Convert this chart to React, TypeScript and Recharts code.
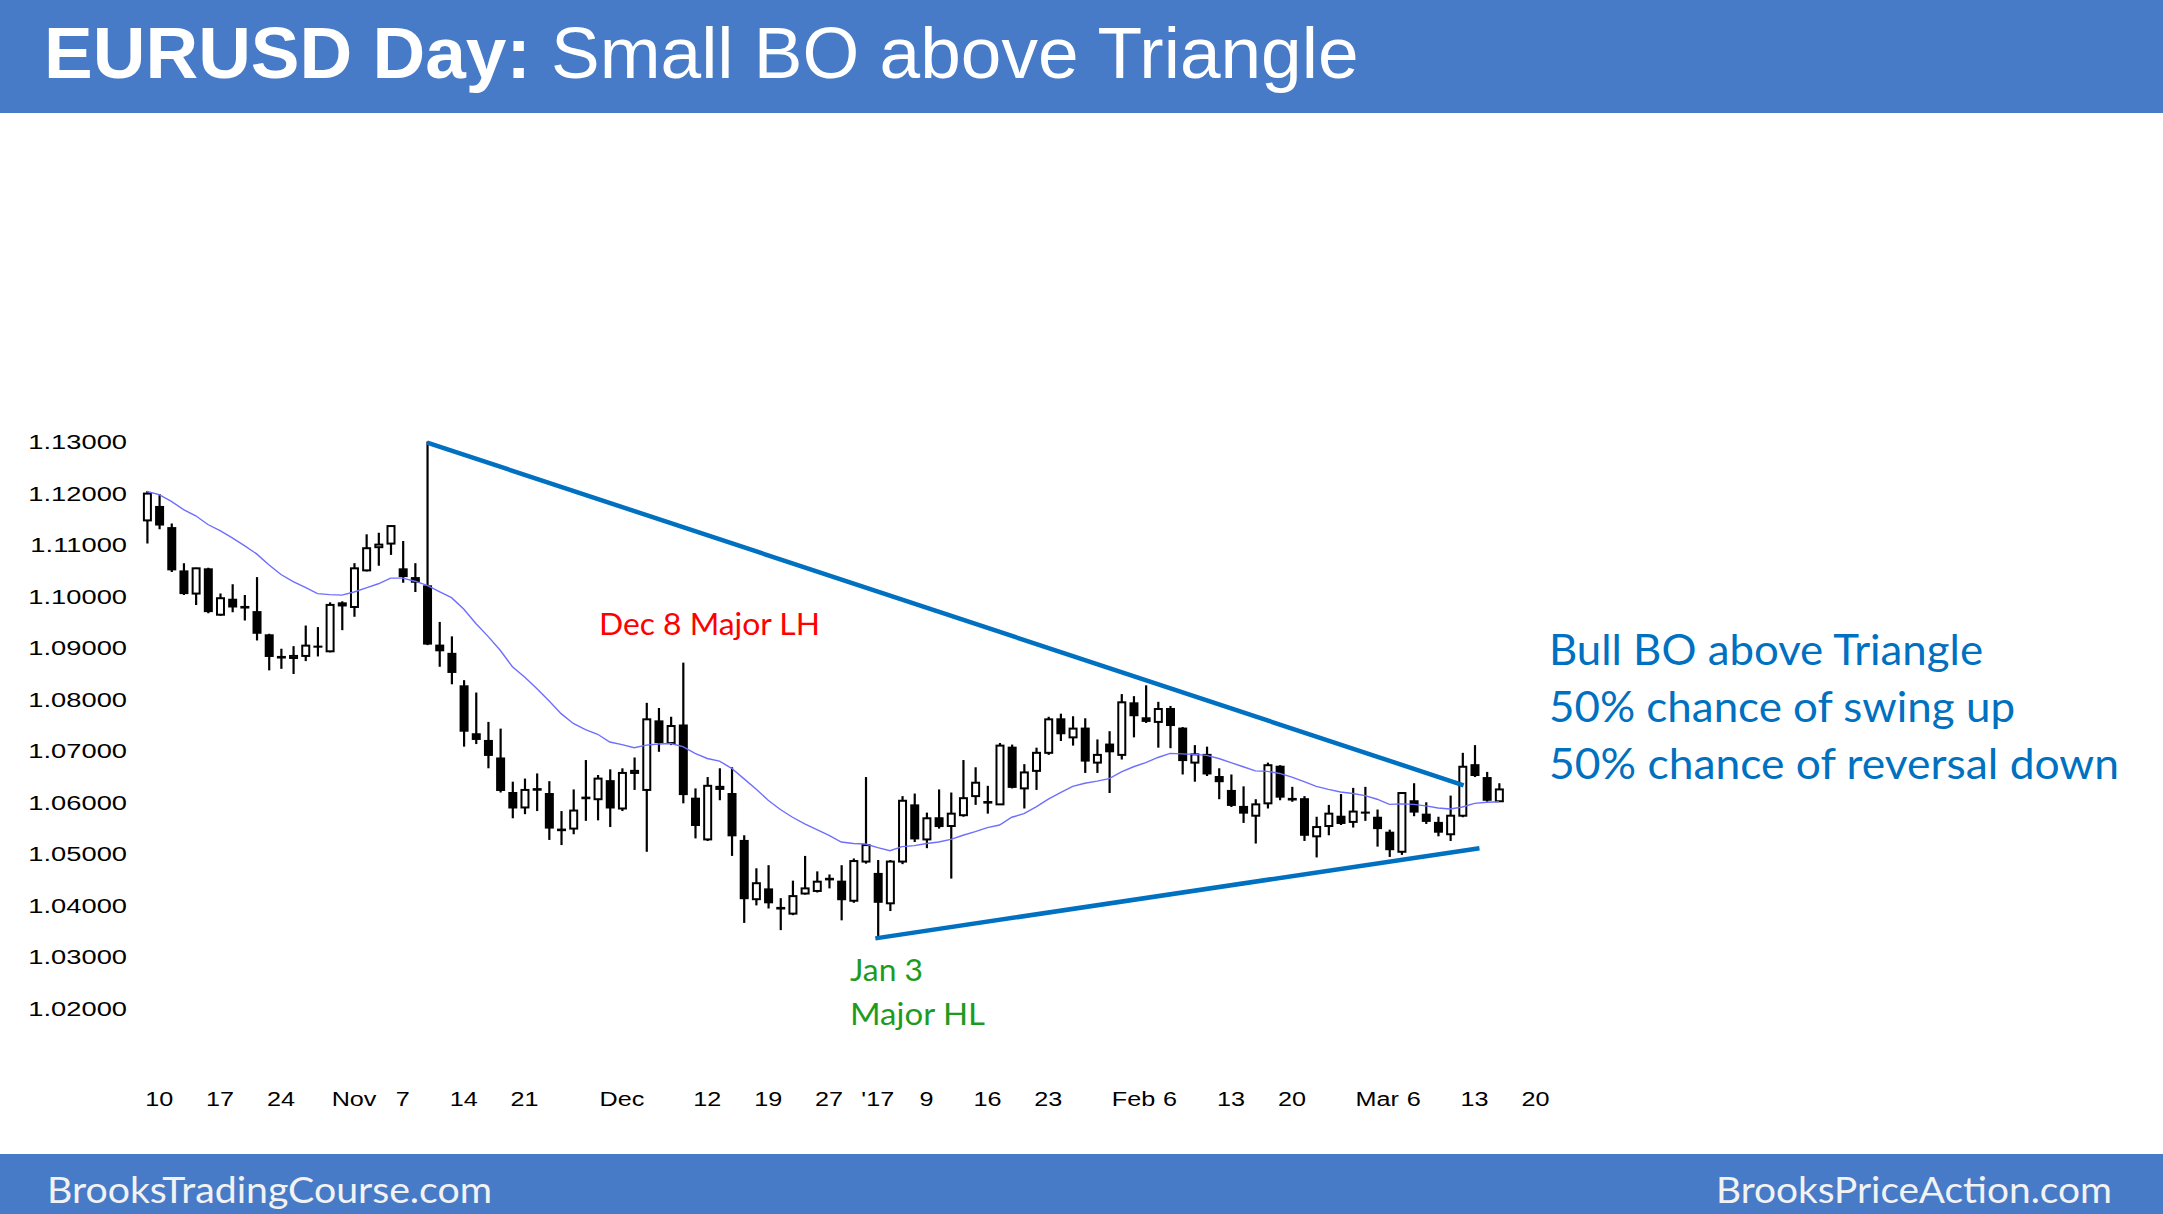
import React from 'react';
import { ComposedChart, Bar, Line, XAxis, YAxis, ReferenceLine } from 'recharts';

// ---------- data ----------
const dates = [
  'Oct 7',
  'Oct 10', 'Oct 11', 'Oct 12', 'Oct 13', 'Oct 14',
  'Oct 17', 'Oct 18', 'Oct 19', 'Oct 20', 'Oct 21',
  'Oct 24', 'Oct 25', 'Oct 26', 'Oct 27', 'Oct 28',
  'Oct 31', 'Nov 1', 'Nov 2', 'Nov 3', 'Nov 4',
  'Nov 7', 'Nov 8', 'Nov 9', 'Nov 10', 'Nov 11',
  'Nov 14', 'Nov 15', 'Nov 16', 'Nov 17', 'Nov 18',
  'Nov 21', 'Nov 22', 'Nov 23', 'Nov 24', 'Nov 25',
  'Nov 28', 'Nov 29', 'Nov 30', 'Dec 1', 'Dec 2',
  'Dec 5', 'Dec 6', 'Dec 7', 'Dec 8', 'Dec 9',
  'Dec 12', 'Dec 13', 'Dec 14', 'Dec 15', 'Dec 16',
  'Dec 19', 'Dec 20', 'Dec 21', 'Dec 22', 'Dec 23',
  'Dec 27', 'Dec 28', 'Dec 29', 'Dec 30',
  'Jan 3', 'Jan 4', 'Jan 5', 'Jan 6',
  'Jan 9', 'Jan 10', 'Jan 11', 'Jan 12', 'Jan 13',
  'Jan 16', 'Jan 17', 'Jan 18', 'Jan 19', 'Jan 20',
  'Jan 23', 'Jan 24', 'Jan 25', 'Jan 26', 'Jan 27',
  'Jan 30', 'Jan 31', 'Feb 1', 'Feb 2', 'Feb 3',
  'Feb 6', 'Feb 7', 'Feb 8', 'Feb 9', 'Feb 10',
  'Feb 13', 'Feb 14', 'Feb 15', 'Feb 16', 'Feb 17',
  'Feb 20', 'Feb 21', 'Feb 22', 'Feb 23', 'Feb 24',
  'Feb 27', 'Feb 28', 'Mar 1', 'Mar 2', 'Mar 3',
  'Mar 6', 'Mar 7', 'Mar 8', 'Mar 9', 'Mar 10',
  'Mar 13', 'Mar 14', 'Mar 15',
];

const opens = [
  1.1147, 1.1175, 1.1134, 1.1050, 1.1005, 1.1054, 1.0964, 1.0995, 1.0980, 1.0971,
  1.0926, 1.0883, 1.0880, 1.0884, 1.0904, 1.0893, 1.0988, 1.0979, 1.1050, 1.1095,
  1.1102, 1.1054, 1.1037, 1.1021, 1.0906, 1.0890, 1.0827, 1.0734, 1.0721, 1.0687,
  1.0620, 1.0590, 1.0626, 1.0618, 1.0548, 1.0549, 1.0607, 1.0606, 1.0643, 1.0588,
  1.0657, 1.0624, 1.0759, 1.0715, 1.0751, 1.0609, 1.0528, 1.0626, 1.0618, 1.0527,
  1.0412, 1.0433, 1.0396, 1.0384, 1.0423, 1.0428, 1.0450, 1.0448, 1.0409, 1.0485,
  1.0463, 1.0404, 1.0485, 1.0596, 1.0528, 1.0571, 1.0554, 1.0575, 1.0612, 1.0601,
  1.0596, 1.0708, 1.0627, 1.0661, 1.0696, 1.0763, 1.0726, 1.0745, 1.0677, 1.0714,
  1.0692, 1.0794, 1.0765, 1.0756, 1.0783, 1.0745, 1.0677, 1.0694, 1.0651, 1.0624,
  1.0593, 1.0574, 1.0598, 1.0671, 1.0607, 1.0608, 1.0534, 1.0554, 1.0574, 1.0562,
  1.0582, 1.0572, 1.0543, 1.0504, 1.0604, 1.0578, 1.0562, 1.0538, 1.0574, 1.0674,
  1.0649, 1.0602,
];

const highs = [
  1.1204, 1.1198, 1.1141, 1.1064, 1.1055, 1.1055, 1.1005, 1.1023, 1.1002, 1.1037,
  1.0927, 1.0898, 1.0903, 1.0943, 1.0940, 1.0988, 1.0990, 1.1064, 1.1120, 1.1123,
  1.1137, 1.1107, 1.1064, 1.1300, 1.0950, 1.0922, 1.0837, 1.0813, 1.0756, 1.0743,
  1.0640, 1.0646, 1.0656, 1.0641, 1.0583, 1.0625, 1.0682, 1.0653, 1.0664, 1.0666,
  1.0687, 1.0793, 1.0783, 1.0766, 1.0871, 1.0627, 1.0649, 1.0666, 1.0668, 1.0536,
  1.0472, 1.0478, 1.0414, 1.0448, 1.0496, 1.0466, 1.0460, 1.0478, 1.0491, 1.0649,
  1.0488, 1.0488, 1.0612, 1.0617, 1.0580, 1.0625, 1.0619, 1.0682, 1.0668, 1.0632,
  1.0715, 1.0712, 1.0674, 1.0706, 1.0766, 1.0772, 1.0767, 1.0763, 1.0722, 1.0738,
  1.0810, 1.0806, 1.0827, 1.0795, 1.0787, 1.0746, 1.0711, 1.0708, 1.0666, 1.0654,
  1.0631, 1.0606, 1.0677, 1.0672, 1.0630, 1.0612, 1.0572, 1.0595, 1.0616, 1.0628,
  1.0630, 1.0586, 1.0547, 1.0620, 1.0637, 1.0600, 1.0572, 1.0613, 1.0696, 1.0711,
  1.0659, 1.0637,
];

const lows = [
  1.1102, 1.1130, 1.1047, 1.1002, 1.0983, 1.0967, 1.0962, 1.0969, 1.0953, 1.0914,
  1.0856, 1.0859, 1.0849, 1.0874, 1.0883, 1.0891, 1.0934, 1.0960, 1.1048, 1.1059,
  1.1080, 1.1026, 1.1008, 1.0905, 1.0863, 1.0829, 1.0708, 1.0713, 1.0666, 1.0619,
  1.0569, 1.0577, 1.0583, 1.0527, 1.0517, 1.0538, 1.0564, 1.0565, 1.0552, 1.0583,
  1.0624, 1.0504, 1.0698, 1.0711, 1.0598, 1.0530, 1.0525, 1.0604, 1.0496, 1.0366,
  1.0400, 1.0394, 1.0352, 1.0381, 1.0421, 1.0425, 1.0433, 1.0371, 1.0405, 1.0481,
  1.0339, 1.0389, 1.0480, 1.0523, 1.0511, 1.0549, 1.0452, 1.0572, 1.0595, 1.0578,
  1.0595, 1.0627, 1.0588, 1.0624, 1.0692, 1.0719, 1.0710, 1.0657, 1.0657, 1.0618,
  1.0683, 1.0726, 1.0754, 1.0706, 1.0705, 1.0654, 1.0640, 1.0651, 1.0606, 1.0591,
  1.0560, 1.0520, 1.0588, 1.0604, 1.0601, 1.0525, 1.0493, 1.0536, 1.0556, 1.0551,
  1.0564, 1.0514, 1.0494, 1.0498, 1.0573, 1.0558, 1.0534, 1.0525, 1.0571, 1.0649,
  1.0601, 1.0601,
];

const closes = [
  1.1199, 1.1137, 1.1050, 1.1004, 1.1054, 1.0969, 1.0996, 1.0978, 1.0977, 1.0927,
  1.0882, 1.0880, 1.0884, 1.0904, 1.0900, 1.0983, 1.0980, 1.1054, 1.1093, 1.1100,
  1.1136, 1.1037, 1.1026, 1.0906, 1.0893, 1.0851, 1.0737, 1.0721, 1.0690, 1.0622,
  1.0588, 1.0624, 1.0624, 1.0549, 1.0545, 1.0584, 1.0610, 1.0646, 1.0588, 1.0657,
  1.0661, 1.0761, 1.0715, 1.0748, 1.0614, 1.0554, 1.0632, 1.0630, 1.0534, 1.0412,
  1.0443, 1.0404, 1.0393, 1.0418, 1.0433, 1.0446, 1.0452, 1.0410, 1.0486, 1.0517,
  1.0405, 1.0485, 1.0603, 1.0528, 1.0569, 1.0552, 1.0578, 1.0608, 1.0638, 1.0599,
  1.0710, 1.0628, 1.0658, 1.0696, 1.0761, 1.0732, 1.0743, 1.0679, 1.0692, 1.0697,
  1.0794, 1.0767, 1.0756, 1.0781, 1.0748, 1.0680, 1.0693, 1.0654, 1.0639, 1.0593,
  1.0578, 1.0596, 1.0672, 1.0609, 1.0605, 1.0535, 1.0552, 1.0578, 1.0558, 1.0582,
  1.0578, 1.0548, 1.0507, 1.0618, 1.0580, 1.0562, 1.0541, 1.0574, 1.0669, 1.0651,
  1.0603, 1.0625,
];

const ema20 = [
  1.1203, 1.1197, 1.1184, 1.1168, 1.1156, 1.1139, 1.1127, 1.1113, 1.1098, 1.1082,
  1.1061, 1.1042, 1.1028, 1.1017, 1.1005, 1.1003, 1.1002, 1.1008, 1.1016, 1.1024,
  1.1035, 1.1035, 1.1029, 1.1021, 1.1009, 1.0997, 1.0975, 1.0947, 1.0922, 1.0895,
  1.0863, 1.0843, 1.0821, 1.0797, 1.0772, 1.0753, 1.0741, 1.0732, 1.0717, 1.0712,
  1.0706, 1.0711, 1.0713, 1.0714, 1.0708, 1.0695, 1.0685, 1.0680, 1.0666, 1.0646,
  1.0626, 1.0604, 1.0586, 1.0571, 1.0558, 1.0547, 1.0536, 1.0523, 1.0520, 1.0519,
  1.0512, 1.0506, 1.0514, 1.0516, 1.0520, 1.0523, 1.0528, 1.0536, 1.0543, 1.0551,
  1.0556, 1.0571, 1.0578, 1.0591, 1.0606, 1.0619, 1.0631, 1.0637, 1.0641, 1.0646,
  1.0659, 1.0669, 1.0677, 1.0687, 1.0695, 1.0694, 1.0693, 1.0691, 1.0685, 1.0677,
  1.0669, 1.0661, 1.0660, 1.0656, 1.0649, 1.0640, 1.0631, 1.0625, 1.0620, 1.0617,
  1.0613, 1.0606, 1.0596, 1.0597, 1.0596, 1.0593, 1.0589, 1.0587, 1.0591, 1.0598,
  1.0600, 1.0601,
];

const yTicks = [1.02, 1.03, 1.04, 1.05, 1.06, 1.07, 1.08, 1.09, 1.1, 1.11, 1.12, 1.13];
const xTickIdx = [1, 6, 11, 17, 21, 26, 31, 39, 46, 51, 56, 60, 64, 69, 74, 81, 84, 89, 94, 101, 104, 109, 114];
const xTickLabels = ['10', '17', '24', 'Nov', '7', '14', '21', 'Dec', '12', '19', '27', "'17", '9', '16', '23', 'Feb', '6', '13', '20', 'Mar', '6', '13', '20'];

// trendline end points (bar index, price)
const upperTrend = [{ i: 23, p: 1.1298 }, { i: 108.1, p: 1.0633 }];
const lowerTrend = [{ i: 59.8, p: 1.0336 }, { i: 109.4, p: 1.0511 }];

const rows = opens.map((o, k) => ({
  i: k,
  date: dates[k],
  open: o,
  high: highs[k],
  low: lows[k],
  close: closes[k],
  range: [lows[k], highs[k]],
  ema: ema20[k],
}));

// ---------- styles ----------
const BAR_BLUE = '#477BC7';
const LINE_BLUE = '#0070C0';
const LATO = 'Lato, "Open Sans", sans-serif';
const ARIAL = '"Liberation Sans", Arial, sans-serif';

function Candle(props: any) {
  const { x, y, width, height, payload } = props;
  if (x == null || y == null || !payload) return null;
  const top = Math.min(y, y + height);
  const h = Math.abs(height);
  const { open, close, high, low } = payload;
  const span = high - low || 1e-9;
  const py = (v: number) => top + ((high - v) / span) * h;
  const cx = x + width / 2;
  const bt = py(Math.max(open, close));
  const bb = py(Math.min(open, close));
  const bull = close > open;
  const bodyH = bb - bt;
  return (
    <g>
      <line x1={cx} x2={cx} y1={top} y2={top + h} stroke="#000" strokeWidth={2.2} />
      {bodyH < 2 ? (
        <rect x={x} y={(bt + bb) / 2 - 1.3} width={width} height={2.6} fill="#000" />
      ) : bull ? (
        <rect x={x + 1} y={bt} width={width - 2} height={bodyH} fill="#fff" stroke="#000" strokeWidth={2} />
      ) : (
        <rect x={x} y={bt} width={width} height={bodyH} fill="#000" />
      )}
    </g>
  );
}

const XTick = (props: any) => {
  const { x, payload } = props;
  const k = xTickIdx.indexOf(payload.value);
  if (k < 0) return null;
  return (
    <text
      transform={`translate(${x},${1105.5}) scale(1.2,1)`}
      textAnchor="middle"
      fontFamily={ARIAL}
      fontSize={21}
      fill="#000"
    >
      {xTickLabels[k]}
    </text>
  );
};

const YTick = (props: any) => {
  const { y, payload } = props;
  return (
    <text
      transform={`translate(127,${y + 7.5}) scale(1.3,1)`}
      textAnchor="end"
      fontFamily={ARIAL}
      fontSize={21}
      fill="#000"
    >
      {Number(payload.value).toFixed(5)}
    </text>
  );
};

export default function App() {
  return (
    <div
      style={{
        position: 'absolute',
        left: 0,
        top: 0,
        width: 2163,
        height: 1214,
        background: '#fff',
        overflow: 'hidden',
      }}
    >
      <div style={{ position: 'absolute', left: 0, top: 0, width: 2163, height: 113, background: BAR_BLUE }} />
      <div style={{ position: 'absolute', left: 0, top: 1154, width: 2163, height: 60, background: BAR_BLUE }} />
      <div style={{ position: 'absolute', left: 0, top: 0 }}>
        <ComposedChart
          width={2163}
          height={1214}
          data={rows}
          margin={{ top: 390, right: 578.8, bottom: 0, left: 0 }}
        >
          <XAxis
            type="number"
            dataKey="i"
            domain={[-1, 118]}
            ticks={xTickIdx}
            tick={XTick}
            axisLine={false}
            tickLine={false}
            height={154}
            allowDataOverflow
            interval={0}
          />
          <YAxis
            type="number"
            domain={[1.01, 1.14]}
            ticks={yTicks}
            tick={YTick}
            axisLine={false}
            tickLine={false}
            width={134.82}
            allowDataOverflow
            interval={0}
          />
          <Line
            dataKey="ema"
            stroke="#6E6EFF"
            strokeWidth={1.4}
            dot={false}
            activeDot={false}
            type="linear"
            isAnimationActive={false}
          />
          <Bar dataKey="range" barSize={9} shape={<Candle />} isAnimationActive={false} />
          <ReferenceLine
            segment={[{ x: upperTrend[0].i, y: upperTrend[0].p }, { x: upperTrend[1].i, y: upperTrend[1].p }]}
            stroke={LINE_BLUE}
            strokeWidth={4.5}
          />
          <ReferenceLine
            segment={[{ x: lowerTrend[0].i, y: lowerTrend[0].p }, { x: lowerTrend[1].i, y: lowerTrend[1].p }]}
            stroke={LINE_BLUE}
            strokeWidth={4.5}
          />
        </ComposedChart>
      </div>
      <svg
        width={2163}
        height={1214}
        style={{ position: 'absolute', left: 0, top: 0, pointerEvents: 'none' }}
      >
        <text x={44} y={78} fontFamily={ARIAL} fontSize={73} fill="#fff">
          <tspan fontWeight="bold">EURUSD Day: </tspan>
          <tspan>Small BO above Triangle</tspan>
        </text>
        <text x={599} y={635} fontFamily={LATO} fontSize={31} fill="#FF0000" textLength={221} lengthAdjust="spacingAndGlyphs">
          Dec 8 Major LH
        </text>
        <text x={850} y={981} fontFamily={LATO} fontSize={31} fill="#1E9B1E" textLength={73} lengthAdjust="spacingAndGlyphs">
          Jan 3
        </text>
        <text x={850} y={1025} fontFamily={LATO} fontSize={31} fill="#1E9B1E" textLength={135} lengthAdjust="spacingAndGlyphs">
          Major HL
        </text>
        <text x={1549} y={665} fontFamily={LATO} fontSize={42} fill={LINE_BLUE} textLength={434} lengthAdjust="spacingAndGlyphs">
          Bull BO above Triangle
        </text>
        <text x={1549} y={722} fontFamily={LATO} fontSize={42} fill={LINE_BLUE} textLength={466} lengthAdjust="spacingAndGlyphs">
          50% chance of swing up
        </text>
        <text x={1549} y={779} fontFamily={LATO} fontSize={42} fill={LINE_BLUE} textLength={570} lengthAdjust="spacingAndGlyphs">
          50% chance of reversal down
        </text>
        <text x={47} y={1203} fontFamily={LATO} fontSize={37} fill="#F2F2F2" textLength={445} lengthAdjust="spacingAndGlyphs">
          BrooksTradingCourse.com
        </text>
        <text x={1716} y={1203} fontFamily={LATO} fontSize={37} fill="#F2F2F2" textLength={396} lengthAdjust="spacingAndGlyphs">
          BrooksPriceAction.com
        </text>
      </svg>
    </div>
  );
}
